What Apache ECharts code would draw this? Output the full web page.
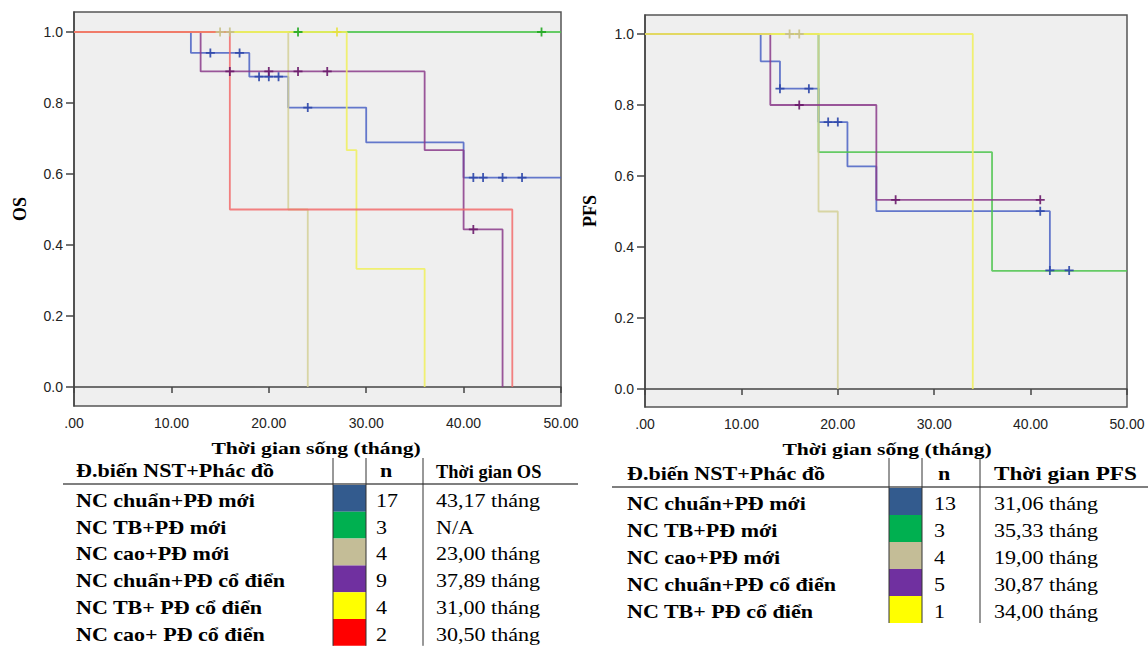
<!DOCTYPE html>
<html>
<head>
<meta charset="utf-8">
<script src="https://cdn.jsdelivr.net/npm/echarts@6/dist/echarts.min.js"></script>
<style>
  html, body { margin: 0; padding: 0; background: #ffffff; }
  #chart { width: 1148px; height: 646px; }
</style>
</head>
<body>
<div id="chart"></div>
<script>
// ---- Axis ticks ----
const xTickLabels = ['.00', '10.00', '20.00', '30.00', '40.00', '50.00'];
const yTickValues = [0, 0.2, 0.4, 0.6, 0.8, 1.0];

// ---- Groups (mutation + regimen) ----
const groupNames = ['NC chuẩn+PĐ mới', 'NC TB+PĐ mới', 'NC cao+PĐ mới',
                    'NC chuẩn+PĐ cổ điển', 'NC TB+ PĐ cổ điển', 'NC cao+ PĐ cổ điển'];

// ---- OS: Kaplan-Meier steps (time in months, survival after the step) ----
const osT1 = [0, 12, 18, 22, 30, 40, 50];
const osS1 = [1, 0.941, 0.874, 0.787, 0.689, 0.590, 0.590];
const osC1 = [14, 17, 19, 20, 21, 24, 41, 42, 44, 46];

const osT2 = [0, 50];
const osS2 = [1, 1];
const osC2 = [23, 48];

const osT3 = [0, 22, 24];
const osS3 = [1, 0.5, 0];
const osC3 = [15, 16];

const osT4 = [0, 13, 36, 40, 44];
const osS4 = [1, 0.889, 0.667, 0.444, 0];
const osC4 = [16, 20, 23, 26, 41];

const osT5 = [0, 28, 29, 36];
const osS5 = [1, 0.667, 0.333, 0];
const osC5 = [27];

const osT6 = [0, 16, 45];
const osS6 = [1, 0.5, 0];
const osC6 = [];

const osN = [17, 3, 4, 9, 4, 2];
const osMean = ['43,17 tháng', 'N/A', '23,00 tháng', '37,89 tháng', '31,00 tháng', '30,50 tháng'];

// ---- PFS: Kaplan-Meier steps ----
const pfsT1 = [0, 12, 14, 18, 21, 24, 42, 44];
const pfsS1 = [1, 0.923, 0.846, 0.752, 0.627, 0.501, 0.334, 0.334];
const pfsC1 = [14, 17, 19, 20, 41, 42, 44];

const pfsT2 = [0, 18, 36, 50];
const pfsS2 = [1, 0.667, 0.333, 0.333];
const pfsC2 = [];

const pfsT3 = [0, 18, 20];
const pfsS3 = [1, 0.5, 0];
const pfsC3 = [15, 16];

const pfsT4 = [0, 13, 24, 41];
const pfsS4 = [1, 0.8, 0.533, 0.533];
const pfsC4 = [16, 26, 41];

const pfsT5 = [0, 34];
const pfsS5 = [1, 0];
const pfsC5 = [];

const pfsN = [13, 3, 4, 5, 1];
const pfsMean = ['31,06 tháng', '35,33 tháng', '19,00 tháng', '30,87 tháng', '34,00 tháng'];

// ---- Styling ----
const lineColors = ['#4a62c4', '#4cc44c', '#d4d096', '#8a3a8a', '#f0f05a', '#f26b6b'];
const markColors = ['#2c46a8', '#22a822', '#c8c088', '#6a1a6a', '#e6e040', '#e04040'];
const swatchColors = ['#335b8e', '#00b050', '#c4bd97', '#7030a0', '#ffff00', '#ff0000'];
const serif = '"Liberation Serif", "Times New Roman", serif';
const sans = '"Liberation Sans", Arial, sans-serif';
const plusPath = 'path://M4,0 H6 V4 H10 V6 H6 V10 H4 V6 H0 V4 H4 Z';

function survivalAt(T, S, t) {
  let s = S[0];
  for (let i = 0; i < T.length; i++) if (T[i] <= t) s = S[i];
  return s;
}

function kmSeries(curves, gridIdx) {
  const out = [];
  curves.forEach((c, i) => {
    out.push({
      type: 'line', xAxisIndex: gridIdx, yAxisIndex: gridIdx,
      step: 'end', symbol: 'none', silent: true,
      lineStyle: { color: lineColors[i], width: 1.8, opacity: 0.85 },
      data: c.T.map((t, k) => [t, c.S[k]]),
      z: 2 + i
    });
    if (c.C.length) {
      out.push({
        type: 'scatter', xAxisIndex: gridIdx, yAxisIndex: gridIdx,
        symbol: plusPath, symbolSize: 9, silent: true,
        itemStyle: { color: markColors[i], opacity: 0.9 },
        data: c.C.map(t => [t, survivalAt(c.T, c.S, t)]),
        z: 10 + i
      });
    }
  });
  return out;
}

const osCurves = [
  { T: osT1, S: osS1, C: osC1 }, { T: osT2, S: osS2, C: osC2 }, { T: osT3, S: osS3, C: osC3 },
  { T: osT4, S: osS4, C: osC4 }, { T: osT5, S: osS5, C: osC5 }, { T: osT6, S: osS6, C: osC6 }
];
const pfsCurves = [
  { T: pfsT1, S: pfsS1, C: pfsC1 }, { T: pfsT2, S: pfsS2, C: pfsC2 }, { T: pfsT3, S: pfsS3, C: pfsC3 },
  { T: pfsT4, S: pfsS4, C: pfsC4 }, { T: pfsT5, S: pfsS5, C: pfsC5 }
];

function xAxisDef(gridIdx) {
  return {
    type: 'value', gridIndex: gridIdx, min: 0, max: 50, interval: 10,
    axisLine: { show: true, lineStyle: { color: '#444', width: 1.5 } },
    axisTick: { show: true, length: 6, lineStyle: { color: '#444', width: 1.5 } },
    axisLabel: { fontFamily: sans, fontSize: 14, color: '#222', margin: 10,
                 formatter: v => xTickLabels[Math.round(v / 10)] },
    splitLine: { show: false }
  };
}
function yAxisDef(gridIdx, name, gap, min, max) {
  return {
    type: 'value', gridIndex: gridIdx, min: min, max: max,
    name: name, nameLocation: 'middle', nameGap: gap, nameRotate: 90,
    nameTextStyle: { fontFamily: serif, fontWeight: 'bold', fontSize: 18, color: '#000' },
    axisLine: { show: true, lineStyle: { color: '#444', width: 1.5 } },
    axisTick: { show: true, length: 8, customValues: yTickValues, lineStyle: { color: '#444', width: 1.5 } },
    axisLabel: { fontFamily: sans, fontSize: 14, color: '#222', margin: 11,
                 customValues: yTickValues, formatter: v => v.toFixed(1) },
    splitLine: { show: false }
  };
}

// ---- Legend tables below each plot ----
function tableGraphics(t, names, ns, times, timeHeader) {
  const g = [];
  const txt = (x, y, s, bold, sx) => ({
    type: 'text', x: x, y: y, silent: true, scaleX: sx || 1.16,
    style: { text: s, fill: '#000', font: (bold ? 'bold ' : '') + '19px ' + serif, verticalAlign: 'middle', align: 'left' }
  });
  g.push({ type: 'text', x: t.titleX, y: t.titleY, silent: true, scaleX: 1.27,
    style: { text: 'Thời gian sống (tháng)', fill: '#000', font: 'bold 17px ' + serif, align: 'center', verticalAlign: 'middle' } });
  g.push(txt(t.x0, t.headY, 'Đ.biến NST+Phác đồ', true));
  g.push(txt(t.nX, t.headY, 'n', true));
  g.push(txt(t.timeX, t.headY, timeHeader, true, t.headScale));
  g.push({ type: 'line', silent: true, shape: { x1: t.ruleX1, y1: t.ruleY, x2: t.ruleX2, y2: t.ruleY }, style: { stroke: '#000', lineWidth: 1.2 } });
  const bottom = t.rowTop + t.rowH * names.length;
  names.forEach((nm, i) => {
    const top = t.rowTop + t.rowH * i;
    g.push({ type: 'rect', silent: true, shape: { x: t.sw1, y: top, width: t.sw2 - t.sw1, height: t.rowH }, style: { fill: swatchColors[i] } });
    g.push(txt(t.x0, top + t.rowH / 2 + 2, nm, true));
    g.push(txt(t.nX - 4, top + t.rowH / 2 + 2, String(ns[i]), false));
    g.push(txt(t.timeX, top + t.rowH / 2 + 2, times[i], false));
  });
  [t.sw1, t.sw2, t.sep].forEach(x => {
    g.push({ type: 'line', silent: true, shape: { x1: x, y1: 458, x2: x, y2: bottom }, style: { stroke: '#333', lineWidth: 1 } });
  });
  return g;
}

const osTable = { titleX: 316, titleY: 448, x0: 76, nX: 380, timeX: 436, headY: 471, headScale: 0.97,
                  ruleX1: 63, ruleX2: 578, ruleY: 484, rowTop: 485, rowH: 26.8, sw1: 333, sw2: 366, sep: 423 };
const pfsTable = { titleX: 887, titleY: 449, x0: 627, nX: 938, timeX: 994, headY: 474, headScale: 1.22,
                   ruleX1: 612, ruleX2: 1148, ruleY: 487, rowTop: 488, rowH: 27, sw1: 889, sw2: 922, sep: 980 };

const chart = echarts.init(document.getElementById('chart'), null, { renderer: 'svg' });
chart.setOption({
  animation: false,
  backgroundColor: '#ffffff',
  grid: [
    { left: 74, top: 12, width: 487, height: 394, show: true, backgroundColor: '#efefef', borderColor: '#555', borderWidth: 1.5 },
    { left: 645, top: 15, width: 482, height: 392, show: true, backgroundColor: '#efefef', borderColor: '#555', borderWidth: 1.5 }
  ],
  xAxis: [xAxisDef(0), xAxisDef(1)],
  yAxis: [yAxisDef(0, 'OS', 45, -0.0535, 1.0563), yAxisDef(1, 'PFS', 46, -0.0507, 1.0535)],
  series: kmSeries(osCurves, 0).concat(kmSeries(pfsCurves, 1)),
  graphic: tableGraphics(osTable, groupNames, osN, osMean, 'Thời gian OS')
    .concat(tableGraphics(pfsTable, groupNames.slice(0, 5), pfsN, pfsMean, 'Thời gian PFS'))
});
</script>
</body>
</html>
